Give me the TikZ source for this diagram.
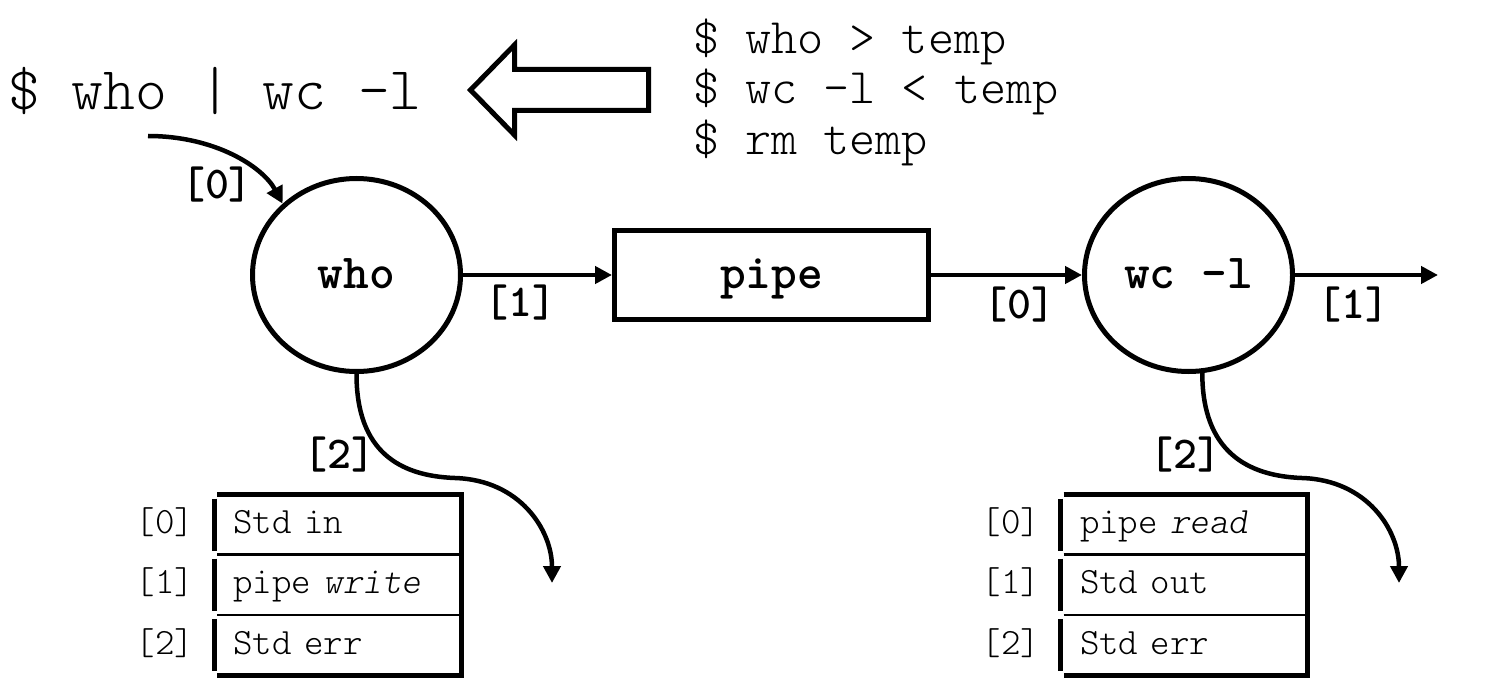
\documentclass[tikz,border=0pt]{standalone}
\usepackage{fontspec}
\usetikzlibrary{shapes.geometric,arrows.meta}
\newcommand\fcmd{\ttfamily\fontseries{l}\fontsize{60.6pt}{66pt}\selectfont}
\newcommand\fcmds{\ttfamily\fontseries{l}\fontsize{49.7pt}{52pt}\selectfont}
\newcommand\fproc{\ttfamily\bfseries\fontsize{49pt}{52pt}\selectfont}
\newcommand\flab{\ttfamily\bfseries\fontsize{45.7pt}{48pt}\selectfont}
\newcommand\ftab{\ttfamily\fontseries{l}\fontsize{37.1pt}{40pt}\selectfont}
\tikzset{
  proc/.style={ellipse, draw, line width=5pt, minimum width=208pt, minimum height=193pt, inner sep=0pt, font=\fproc, text height=30pt, text depth=4pt},
  pipebox/.style={rectangle, draw, line width=5pt, minimum width=314pt, minimum height=89pt, inner sep=0pt, font=\fproc, text height=30pt, text depth=4pt},
  arr/.style={line width=4.5pt, -{Triangle[length=17pt,width=17pt]}},
  lab/.style={inner sep=0pt, font=\flab},
  rowbox/.style={anchor=north west, text width=208pt, inner xsep=19.5pt, inner ysep=0pt, outer sep=0pt, minimum height=60.2pt, align=left, font=\ftab, text height=24.4pt, text depth=6.4pt},
  idx/.style={inner sep=0pt, outer sep=0pt, font=\ftab, text height=24.4pt, text depth=6.4pt},
  thickline/.style={line width=5pt, line join=miter},
  thinline/.style={line width=2.5pt},
  bigarrow/.style={line width=5pt, line join=miter, fill=white}
}
\begin{document}
\begin{tikzpicture}[x=1pt,y=-1pt]
\useasboundingbox (0,0) rectangle (1512,690);
% commands
\node[anchor=base, inner sep=0pt, font=\fcmd] (cmd) at (215,110) {\$ who | wc -l};
\node[anchor=base west, inner sep=0pt, font=\fcmds] (c1) at (693,54) {\$ who > temp};
\node[anchor=base west, inner sep=0pt, font=\fcmds] (c2) at (693,104) {\$ wc –l < temp};
\node[anchor=base west, inner sep=0pt, font=\fcmds] (c3) at (693,154) {\$ rm temp};
% hollow arrow
\draw[bigarrow] (470.5,90) -- (514.5,45) -- (514.5,69.5) -- (648.5,69.5) -- (648.5,110.5) -- (514.5,110.5) -- (514.5,135) -- cycle;
% processes
\node[proc] (who) at (356.5,275) {who};
\node[pipebox] (pipe) at (771.5,275) {pipe};
\node[proc] (wc) at (1188.5,275) {wc -l};
\coordinate (out1) at (1438,275);
\coordinate (in0) at (148,136);
\coordinate (a2m) at (455,478);
\coordinate (a2e) at (552,583);
\coordinate (b2m) at (1302,478);
\coordinate (b2e) at (1399,583);
\draw[arr] (who) -- (pipe);
\draw[arr] (pipe) -- (wc);
\draw[arr] (wc) -- (out1);
\draw[arr] (in0) .. controls +(67,0) and +(-20,-37) .. (who.136);
\draw[arr] (who.south) .. controls +(0,78) and +(-55,-2) .. (a2m) .. controls +(65,2) and +(0,-53) .. (a2e);
\draw[arr] (wc.-82) .. controls +(0,78) and +(-55,-2) .. (b2m) .. controls +(65,2) and +(0,-53) .. (b2e);
% labels
\node[lab] (l0a) at (217,185) {[0]};
\node[lab] (l1a) at (520,303) {[1]};
\node[lab] (l0b) at (1019,305) {[0]};
\node[lab] (l1b) at (1353,305) {[1]};
\node[lab] (l2a) at (339,455) {[2]};
\node[lab] (l2b) at (1185,455) {[2]};
% left table
\node[rowbox] (a0) at (214,494.5) {Std in};
\node[rowbox] (a1) at (a0.south west) {pipe \textit{write}};
\node[rowbox] (a2) at (a1.south west) {Std err};
\node[idx, xshift=-49pt] (ia0) at (a0.west) {[0]};
\node[idx, xshift=-49pt] (ia1) at (a1.west) {[1]};
\node[idx, xshift=-49pt] (ia2) at (a2.west) {[2]};
\draw[thickline] ([xshift=3pt]a0.north west) -- (a0.north east) -- (a2.south east) -- ([xshift=3pt]a2.south west);
\draw[thinline] ([xshift=3pt]a0.south west) -- (a0.south east);
\draw[thinline] ([xshift=3pt]a1.south west) -- (a1.south east);
\draw[thickline] ([yshift=-4pt]a0.north west) -- ([yshift=4pt]a0.south west);
\draw[thickline] ([yshift=-4pt]a1.north west) -- ([yshift=4pt]a1.south west);
\draw[thickline] ([yshift=-4pt]a2.north west) -- ([yshift=4pt]a2.south west);
% right table
\node[rowbox] (b0) at (1060.5,494.5) {pipe \textit{read}};
\node[rowbox] (b1) at (b0.south west) {Std out};
\node[rowbox] (b2) at (b1.south west) {Std err};
\node[idx, xshift=-49.5pt] (ib0) at (b0.west) {[0]};
\node[idx, xshift=-49.5pt] (ib1) at (b1.west) {[1]};
\node[idx, xshift=-49.5pt] (ib2) at (b2.west) {[2]};
\draw[thickline] ([xshift=3pt]b0.north west) -- (b0.north east) -- (b2.south east) -- ([xshift=3pt]b2.south west);
\draw[thinline] ([xshift=3pt]b0.south west) -- (b0.south east);
\draw[thinline] ([xshift=3pt]b1.south west) -- (b1.south east);
\draw[thickline] ([yshift=-4pt]b0.north west) -- ([yshift=4pt]b0.south west);
\draw[thickline] ([yshift=-4pt]b1.north west) -- ([yshift=4pt]b1.south west);
\draw[thickline] ([yshift=-4pt]b2.north west) -- ([yshift=4pt]b2.south west);
\end{tikzpicture}
\end{document}
